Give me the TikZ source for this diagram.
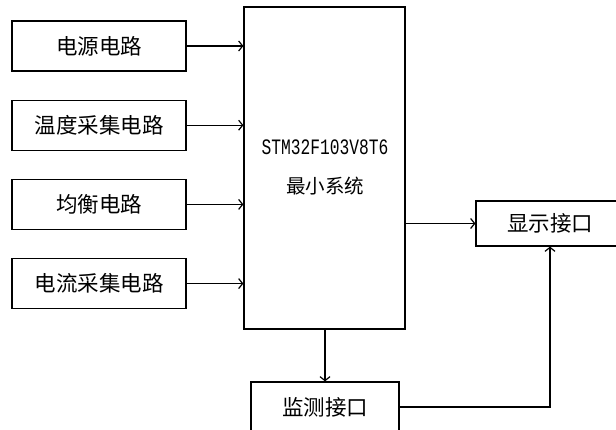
\documentclass[tikz,border=0pt]{standalone}
\usepackage{fontspec}
\setmainfont{Liberation Serif}
\newfontfamily\cjk{Noto Sans CJK SC}
\newfontfamily\chipfont[FakeStretch=0.74]{Liberation Mono}
\usetikzlibrary{arrows.meta, positioning}
\tikzset{
    block/.style={rectangle, draw, line width=1.2pt, align=center, minimum width=174pt, minimum height=50pt, font=\cjk\fontsize{21.5}{24}\selectfont},
    arrow/.style={line width=1.2pt, -{Straight Barb[length=4pt, width=10pt]}}
}
\begin{document}
\begin{tikzpicture}[x=1pt, y=-1pt, node distance=28pt]
            \clip (0,0) rectangle (616,430);
            \fill[white] (0,0) rectangle (616,430);
            \node[block] (power) at (99,46) {电源电路};
            \node[block, below=of power] (temp) {温度采集电路};
            \node[block, below=of temp] (balance) {均衡电路};
            \node[block, below=of balance] (current) {电流采集电路};
            \node[block, minimum width=161pt, minimum height=322pt] (mcu) at (324.5,168) {};
            \node[font=\chipfont\fontsize{22}{24}\selectfont] (chip) at (325,147.5) {STM32F103V8T6};
            \node[font=\cjk\fontsize{19.5}{24}\selectfont] (minsys) at (325,186) {最小系统};
            \node[block, minimum width=148pt, minimum height=45pt] (display) at (550,223.5) {显示接口};
            \node[block, minimum width=148pt, minimum height=50pt] (monitor) at (325,407) {监测接口};
            \draw[arrow] (power) -- (power -| mcu.west);
            \draw[arrow] (temp) -- (temp -| mcu.west);
            \draw[arrow] (balance) -- (balance -| mcu.west);
            \draw[arrow] (current) -- (current -| mcu.west);
            \draw[arrow] (mcu.east |- display) -- (display);
            \draw[arrow] (mcu.south -| monitor) -- (monitor);
            \draw[arrow] (monitor) -| (display);
        \end{tikzpicture}
\end{document}
